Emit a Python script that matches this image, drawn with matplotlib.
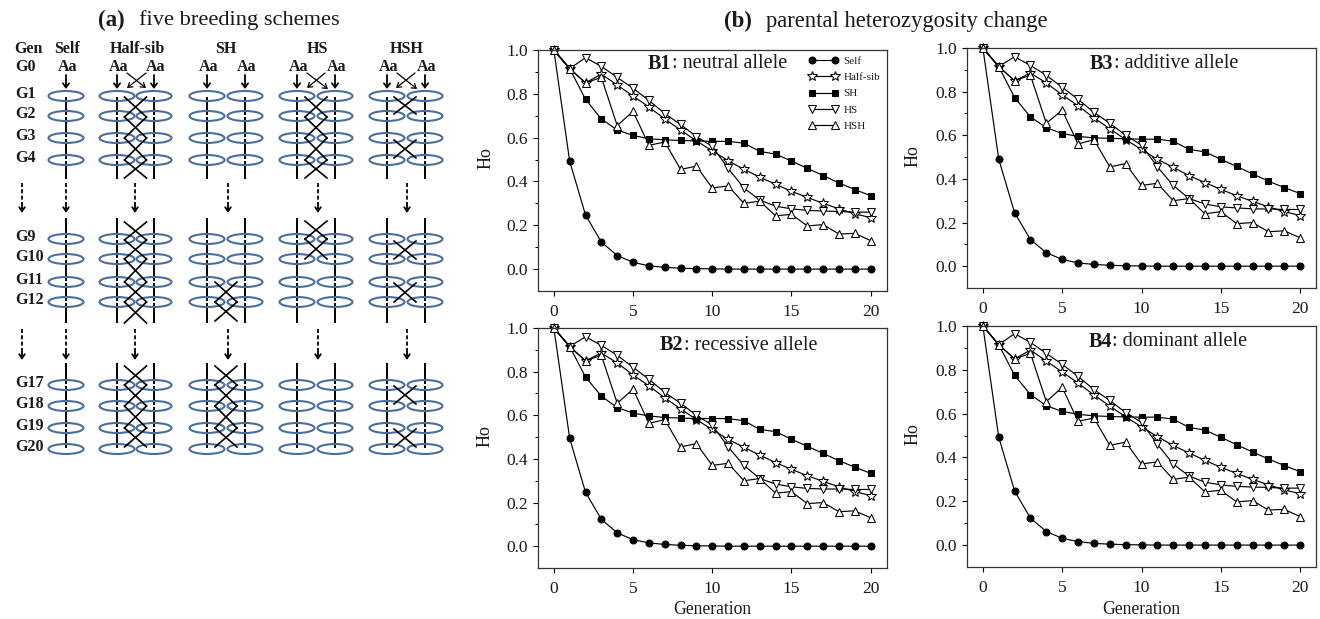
import matplotlib
matplotlib.use("Agg")
import matplotlib.pyplot as plt
from matplotlib.patches import Ellipse

plt.rcParams['font.family'] = ['Liberation Serif', 'DejaVu Serif']

W, H = 1320, 619
INK = '#1a1a1a'
BLUE = '#4a6f9f'

generation = list(range(21))
series_names = ['Self', 'Half-sib', 'SH', 'HS', 'HSH']

# ---- Panel (b) data
b1_self = [1, .492, .247, .123, .062, .031, .015, .008, .004, .002, .001, 0, 0, 0, 0, 0, 0, 0, 0, 0, 0]
b1_half = [1, .915, .85, .89, .84, .79, .74, .685, .635, .585, .54, .495, .455, .42, .387, .355, .327, .3, .275, .252, .235]
b1_sh = [1, .915, .775, .685, .635, .61, .595, .59, .587, .585, .583, .583, .575, .537, .525, .493, .46, .427, .393, .363, .335]
b1_hs = [1, .915, .965, .925, .875, .825, .77, .71, .66, .605, .56, .46, .37, .315, .287, .275, .268, .265, .263, .26, .26]
b1_hsh = [1, .915, .85, .875, .655, .72, .565, .58, .455, .47, .37, .38, .3, .31, .243, .25, .197, .203, .16, .163, .13]

b2_self = [1, .494, .247, .123, .061, .03, .015, .008, .004, .002, .001, 0, 0, 0, 0, 0, 0, 0, 0, 0, 0]
b2_half = [1, .915, .85, .885, .84, .785, .735, .68, .63, .58, .535, .49, .453, .417, .383, .352, .323, .297, .272, .25, .232]
b2_sh = [1, .915, .775, .688, .635, .61, .597, .59, .587, .585, .585, .585, .575, .535, .525, .49, .458, .425, .392, .362, .334]
b2_hs = [1, .915, .96, .92, .875, .82, .765, .705, .655, .6, .555, .455, .37, .31, .285, .272, .265, .262, .262, .26, .26]
b2_hsh = [1, .915, .85, .875, .655, .72, .563, .58, .455, .47, .37, .38, .3, .31, .243, .25, .195, .2, .158, .162, .13]

b3_self = [1, .491, .245, .122, .062, .031, .015, .008, .004, .002, .001, 0, 0, 0, 0, 0, 0, 0, 0, 0, 0]
b3_half = [1, .915, .85, .885, .84, .785, .735, .68, .63, .58, .535, .49, .453, .415, .383, .352, .323, .297, .272, .25, .232]
b3_sh = [1, .915, .773, .684, .635, .608, .595, .588, .586, .584, .582, .582, .573, .535, .524, .49, .457, .423, .39, .36, .333]
b3_hs = [1, .915, .96, .92, .875, .82, .765, .705, .655, .6, .555, .455, .37, .31, .285, .272, .267, .263, .262, .26, .26]
b3_hsh = [1, .915, .85, .875, .655, .715, .56, .58, .455, .47, .37, .38, .3, .31, .24, .25, .195, .2, .158, .162, .13]

b4_self = [1, .493, .247, .123, .062, .031, .016, .008, .004, .002, .001, 0, 0, 0, 0, 0, 0, 0, 0, 0, 0]
b4_half = [1, .915, .85, .89, .84, .79, .74, .685, .635, .585, .54, .495, .455, .42, .387, .355, .327, .3, .275, .252, .235]
b4_sh = [1, .915, .775, .687, .636, .61, .597, .59, .587, .585, .584, .584, .575, .537, .525, .492, .458, .425, .393, .363, .335]
b4_hs = [1, .915, .965, .925, .875, .825, .77, .71, .66, .605, .56, .46, .37, .315, .287, .275, .268, .265, .263, .26, .26]
b4_hsh = [1, .915, .85, .875, .655, .72, .565, .58, .455, .47, .37, .38, .3, .31, .243, .25, .197, .203, .16, .163, .13]

panel_titles = [('B1', ': neutral allele'), ('B2', ': recessive allele'),
                ('B3', ': additive allele'), ('B4', ': dominant allele')]
panel_data = [
    [b1_self, b1_half, b1_sh, b1_hs, b1_hsh],
    [b2_self, b2_half, b2_sh, b2_hs, b2_hsh],
    [b3_self, b3_half, b3_sh, b3_hs, b3_hsh],
    [b4_self, b4_half, b4_sh, b4_hs, b4_hsh],
]
# pixel boxes: left, right, top (y=1.0), bottom (y=-0.1)
panel_boxes = [(538, 886.5, 50, 291), (538, 886.5, 328, 568), (967, 1316, 48, 288), (967, 1316, 326, 567)]
panel_title_x = [(648, 671.5), (660, 683.5), (1090, 1113.5), (1089, 1112.5)]
panel_title_y = [64, 345, 64, 342]
has_xlabel = [False, True, False, True]
ho_label_x = [486, 485, 913, 913]

styles = [
    dict(marker='o', ms=5.0, mfc='black', mec='black'),
    dict(marker='*', ms=7.6, mfc='white', mec='black'),
    dict(marker='s', ms=4.6, mfc='black', mec='black'),
    dict(marker='v', ms=5.7, mfc='white', mec='black'),
    dict(marker='^', ms=5.7, mfc='white', mec='black'),
]

fig = plt.figure(figsize=(W / 100, H / 100), dpi=100, facecolor='white')

# ---- Panel (a): schematic in pixel coordinates
sk = fig.add_axes([0, 0, 1, 1])
sk.set_xlim(0, W)
sk.set_ylim(H, 0)
sk.axis('off')
sk.set_zorder(10)

gen_labels = ['G1', 'G2', 'G3', 'G4', 'G9', 'G10', 'G11', 'G12', 'G17', 'G18', 'G19', 'G20']
gen_rows = [96, 116, 138, 160, 239, 259, 282, 302, 385, 406, 428, 449]
blocks = [(96, 179, gen_rows[:4]), (218, 323, gen_rows[4:8]), (363, 449, gen_rows[8:])]
scheme_names = ['Self', 'Half-sib', 'SH', 'HS', 'HSH']
scheme_cols = [(66,), (117, 154), (207, 245), (297, 335), (387, 425)]
scheme_label_x = [67, 137, 226, 317, 407]
dash_arrow_x = [22, 66, 135, 228, 318, 407]
cross_x = [None, 135.5, 226, 316, 405]
# crossings as (top, bottom) pixel spans for each scheme
cross_spans = [
    [],
    [(97, 117), (117, 138), (138, 160), (160, 178), (222, 240), (240, 259), (259, 282), (282, 302), (302, 323),
     (366, 385), (385, 406), (406, 428), (428, 447)],
    [(282, 302), (302, 321), (366, 385), (385, 406), (406, 428), (428, 447)],
    [(97, 117), (117, 138), (138, 160), (160, 178), (221, 239), (239, 259)],
    [(97, 114), (140, 158), (241, 259), (283, 302), (386, 404), (429, 447)],
]
diag_arrows = {1: [(146, 73, 127, 88), (127, 73, 146, 88)],
               3: [(325, 73, 307, 88), (307, 73, 328, 89)],
               4: [(415, 73, 396, 88), (397, 73, 417, 89)]}

bold = dict(fontweight='bold', color=INK, fontsize=11.5, ha='center', va='center')
sk.text(28, 49, 'Gen', **bold)
sk.text(25, 67, 'G0', **bold)
for lab, y in zip(gen_labels, gen_rows):
    sk.text(15, y - 2, lab, fontweight='bold', color=INK, fontsize=11.5, ha='left', va='center')

for i, (name, cols, lx) in enumerate(zip(scheme_names, scheme_cols, scheme_label_x)):
    sk.text(lx, 49, name, **bold)
    for c in cols:
        sk.text(c + 2, 67, 'Aa', **bold)
        sk.annotate('', xy=(c, 89), xytext=(c, 75),
                    arrowprops=dict(arrowstyle='->,head_width=0.22,head_length=0.3', color='black', lw=1.3,
                                    shrinkA=0, shrinkB=0))
        for top, bot, rows in blocks:
            sk.plot([c, c], [top, bot], color='black', lw=1.4, solid_capstyle='butt', zorder=2)
            for y in rows:
                sk.add_patch(Ellipse((c, y), 35, 10, fc='none', ec=BLUE, lw=1.5, zorder=3))
                sk.plot([c, c], [y - 1.2, y + 1.2], color='white', lw=1.6, solid_capstyle='butt', zorder=4)
    for x1, y1, x2, y2 in diag_arrows.get(i, []):
        sk.annotate('', xy=(x2, y2), xytext=(x1, y1),
                    arrowprops=dict(arrowstyle='->,head_width=0.2,head_length=0.3', color='black', lw=0.9,
                                    shrinkA=0, shrinkB=0))
    for top, bot in cross_spans[i]:
        cx = cross_x[i]
        sk.plot([cx - 11, cx + 11], [top, bot], color='black', lw=1.2, zorder=5)
        sk.plot([cx - 11, cx + 11], [bot, top], color='black', lw=1.2, zorder=5)

for x in dash_arrow_x:
    for top, bot in [(183, 213), (329, 360)]:
        sk.plot([x, x], [top, bot - 5], color='black', lw=1.3, ls=(0, (2.2, 1.3)))
        sk.annotate('', xy=(x, bot), xytext=(x, bot - 8),
                    arrowprops=dict(arrowstyle='->,head_width=0.2,head_length=0.3', color='black', lw=1.3,
                                    shrinkA=0, shrinkB=0))

sk.text(98, 20, '(a)', fontsize=16.5, fontweight='bold', color=INK, ha='left', va='center')
sk.text(139, 20, 'five breeding schemes', fontsize=16.1, color=INK, ha='left', va='center')
sk.text(724, 21, '(b)', fontsize=16.5, fontweight='bold', color=INK, ha='left', va='center')
sk.text(766, 21, 'parental heterozygosity change', fontsize=16.25, color=INK, ha='left', va='center')

# ---- Panel (b): line charts
for idx, (box, data) in enumerate(zip(panel_boxes, panel_data)):
    l, r, t, b = box
    ax = fig.add_axes([l / W, 1 - b / H, (r - l) / W, (b - t) / H])
    for name, vals, st in zip(series_names, data, styles):
        ax.plot(generation, vals, color='black', lw=0.85, mew=0.75, label=name, clip_on=False, **st)
    ax.set_xlim(-1, 21)
    ax.set_ylim(-0.1, 1.0)
    ax.set_xticks([0, 5, 10, 15, 20])
    ax.set_yticks([0, .2, .4, .6, .8, 1.0])
    ax.set_yticks([.1, .3, .5, .7, .9], minor=True)
    ax.tick_params(axis='both', which='major', direction='out', length=3.5, width=0.8,
                   labelsize=12.5, labelcolor=INK, pad=4)
    ax.tick_params(axis='x', pad=6)
    ax.tick_params(axis='y', which='minor', direction='out', length=2.2, width=0.7)
    for s in ax.spines.values():
        s.set_linewidth(0.9)
        s.set_color('#333333')
    sk.text(ho_label_x[idx], (t + b) / 2 - 12, 'Ho', rotation=90, fontsize=13, color=INK, ha='center', va='center')
    if has_xlabel[idx]:
        sk.text((l + r) / 2, b + 42, 'Generation', fontsize=12.7, color=INK, ha='center', va='center')
    bold_part, rest = panel_titles[idx]
    sk.text(panel_title_x[idx][0], panel_title_y[idx], bold_part, fontsize=14.5, fontweight='bold', color=INK,
            ha='left', va='center')
    sk.text(panel_title_x[idx][1], panel_title_y[idx], rest, fontsize=14.5, color=INK, ha='left', va='center')
    if idx == 0:
        ax.legend(loc='upper left', bbox_to_anchor=((806 - l) / (r - l), 1.0 - 4 / (b - t)), frameon=False,
                  numpoints=2, fontsize=8.0, handlelength=2.7, handletextpad=0.45, labelspacing=0.58,
                  borderpad=0.2, borderaxespad=0, labelcolor=INK)

fig.savefig('out.png', dpi=100)
